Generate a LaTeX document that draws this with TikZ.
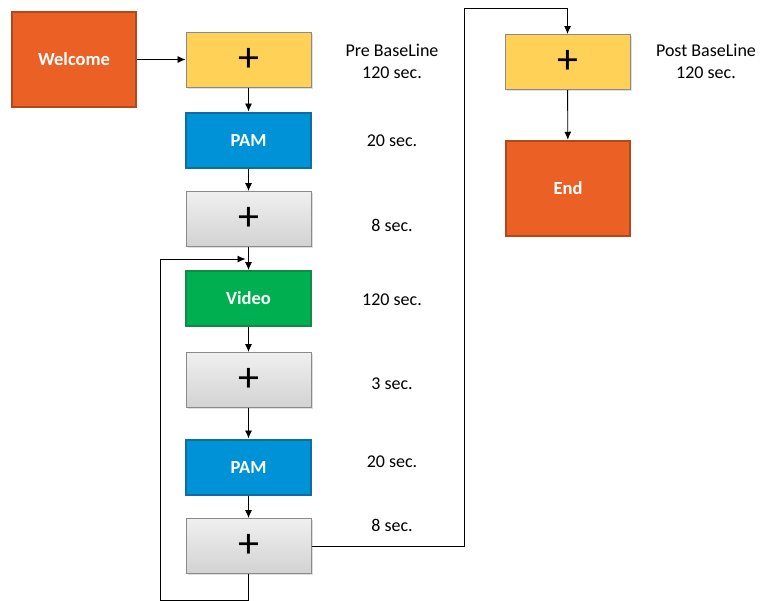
\documentclass[tikz,border=0pt]{standalone}
\usepackage{fontspec}
\setmainfont{Carlito}
\usetikzlibrary{arrows.meta,shadows}
\definecolor{orng}{HTML}{EB6024}
\definecolor{orngline}{HTML}{B3481B}
\definecolor{yel}{HTML}{FFD157}
\definecolor{blu}{HTML}{0092D6}
\definecolor{bluline}{HTML}{0B6FA6}
\definecolor{grn}{HTML}{00AF50}
\definecolor{grnline}{HTML}{14884A}
\definecolor{boxline}{HTML}{8A8A8A}
\tikzset{
  box/.style={minimum width=125pt, minimum height=55pt, inner sep=0pt, font=\bfseries\fontsize{18.5}{18.5}\selectfont, text=white},
  bigbox/.style={box, minimum width=124pt, minimum height=95pt, fill=orng, draw=orngline, line width=2.5pt},
  waitbox/.style={box, draw=boxline, line width=1pt, text=black, font=\fontsize{42}{42}\selectfont, drop shadow={shadow xshift=1.5pt, shadow yshift=-1.5pt, opacity=0.25}},
  ybox/.style={waitbox, fill=yel},
  gbox/.style={waitbox, top color=gray!12, bottom color=gray!35},
  pambox/.style={box, fill=blu, draw=bluline, line width=2pt},
  vidbox/.style={box, fill=grn, draw=grnline, line width=2pt},
  lbl/.style={align=center, font=\fontsize{18}{22}\selectfont},
  arr/.style={-{Latex[length=8pt,width=7pt]}, line width=0.9pt},
  ln/.style={line width=0.9pt}
}
\begin{document}
\begin{tikzpicture}[x=1pt,y=-1pt]
    \useasboundingbox (0,0) rectangle (760,600);
    \node [bigbox] (welcome) at (74,59.5) {Welcome};
    \node [ybox] (pre) at (248.5,59.5) {+};
    \node [pambox] (pam1) at (248.5,140) {PAM};
    \node [gbox] (fix1) at (248.5,219) {+};
    \node [vidbox] (video) at (248.5,298.5) {Video};
    \node [gbox] (fix2) at (248.5,380) {+};
    \node [pambox] (pam2) at (248.5,467) {PAM};
    \node [gbox] (fix3) at (248.5,546) {+};
    \node [ybox] (post) at (567.5,62) {+};
    \node [bigbox] (end) at (568,188.5) {End};
    \node [lbl] (tpre) at (392,61) {Pre BaseLine\\120 sec.};
    \node [lbl] (tpam1) at (392,141) {20 sec.};
    \node [lbl] (tfix1) at (392,225) {8 sec.};
    \node [lbl] (tvideo) at (392,300) {120 sec.};
    \node [lbl] (tfix2) at (392,384) {3 sec.};
    \node [lbl] (tpam2) at (392,462) {20 sec.};
    \node [lbl] (tfix3) at (392,525) {8 sec.};
    \node [lbl] (tpost) at (706,61) {Post BaseLine\\120 sec.};
    \coordinate (loopin) at (248.5,259);
    \coordinate (loopbot) at (248.5,600);
    \coordinate (jump) at (464,8);
    \draw [arr] (welcome) -- (pre);
    \draw [arr] (pre) -- (pam1);
    \draw [arr] (pam1) -- (fix1);
    \draw [arr] (fix1) -- (video);
    \draw [arr] (video) -- (fix2);
    \draw [arr] (fix2) -- (pam2);
    \draw [arr] (pam2) -- (fix3);
    \draw [ln] (fix3) -- (loopbot);
    \draw [arr] (loopbot) -| (160,259) -- ([xshift=-3pt]loopin);
    \draw [arr] (fix3.east) -| (jump) -| (post.north);
    \draw [arr] (post) -- (end);
  \end{tikzpicture}
\end{document}
